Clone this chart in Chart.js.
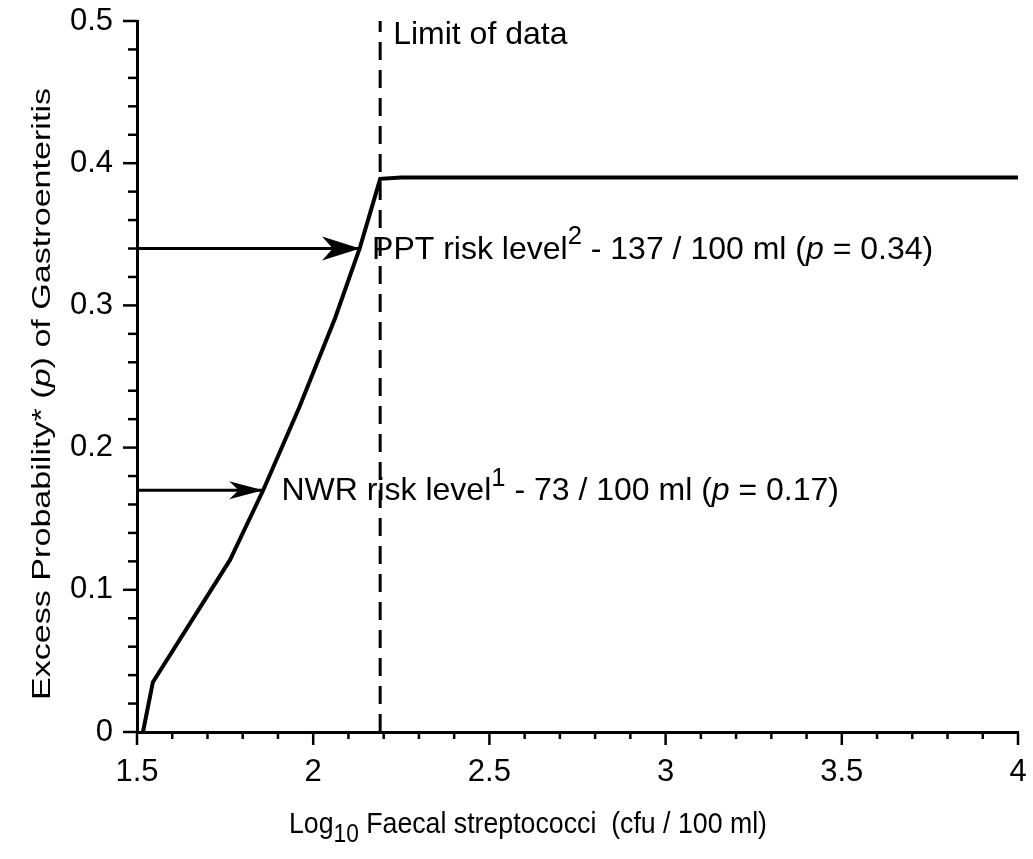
<!DOCTYPE html>
<html>
<head>
<meta charset="utf-8">
<script src="https://cdn.jsdelivr.net/npm/chart.js@4"></script>
<style>
  html, body { margin: 0; padding: 0; background: #fff; }
  #wrap { width: 1033px; height: 859px; }
</style>
</head>
<body>
<div id="wrap"><canvas id="chart"></canvas></div>
<script>
// curve (log10 FS, excess probability)
const curveX = [1.517, 1.545, 1.764, 1.858, 1.96, 2.062, 2.133, 2.19, 2.25, 4.0];
const curveY = [0, 0.035, 0.121, 0.17, 0.228, 0.291, 0.341, 0.389, 0.39, 0.39];

const limitOfData = 2.19;

// risk level arrows: value of p and where the arrow meets the curve
const riskLevels = ["NWR", "PPT"];
const riskP = [0.17, 0.34];
const riskX = [1.858, 2.133];
const riskLabelX = [1.91, 2.167];
const riskSup = ["1", "2"];
const riskCount = ["73", "137"];

const xTickLabels = ["1.5", "2", "2.5", "3", "3.5", "4"];
const yTickLabels = ["0", "0.1", "0.2", "0.3", "0.4", "0.5"];

const FONT = '"Liberation Sans", Arial, Helvetica, sans-serif';
const FS = 31;
const NOTE_FS = 32;

const curveData = curveX.map((x, i) => ({ x: x, y: curveY[i] }));

const arrowSets = riskLevels.map((name, i) => ({
  label: name + " arrow",
  data: [{ x: 1.5, y: riskP[i] }, { x: riskX[i], y: riskP[i] }],
  borderColor: "#000",
  borderWidth: 3,
  pointRadius: 0,
  showLine: true,
  clip: false,
}));

function drawRich(ctx, x, y, parts, fs) {
  let cx = x;
  parts.forEach((p) => {
    let size = fs, dy = 0, style = "";
    if (p.s === "sup") { size = fs * 0.8; dy = -fs * 0.45; }
    if (p.s === "sub") { size = fs * 0.85; dy = fs * 0.3; }
    if (p.s === "i") { style = "italic "; }
    ctx.font = style + size + "px " + FONT;
    ctx.fillText(p.t, cx, y + dy);
    cx += ctx.measureText(p.t).width;
  });
  return cx - x;
}

function richWidth(ctx, parts, fs) {
  let w = 0;
  parts.forEach((p) => {
    const size = p.s === "sup" ? fs * 0.8 : p.s === "sub" ? fs * 0.85 : fs;
    ctx.font = (p.s === "i" ? "italic " : "") + size + "px " + FONT;
    w += ctx.measureText(p.t).width;
  });
  return w;
}

const decorPlugin = {
  id: "decor",
  afterDraw(chart) {
    const ctx = chart.ctx;
    const xs = chart.scales.x, ys = chart.scales.y;
    const area = chart.chartArea;
    ctx.save();
    ctx.fillStyle = "#000";
    ctx.strokeStyle = "#000";

    // tick marks, long for labelled values and short otherwise
    ctx.lineWidth = 2.5;
    xs.ticks.forEach((t) => {
      const px = xs.getPixelForValue(t.value);
      const len = t.label ? 13 : 7;
      ctx.beginPath();
      ctx.moveTo(px, area.bottom);
      ctx.lineTo(px, area.bottom + len);
      ctx.stroke();
    });
    ys.ticks.forEach((t) => {
      const py = ys.getPixelForValue(t.value);
      const len = t.label ? 14 : 9;
      ctx.beginPath();
      ctx.moveTo(area.left, py);
      ctx.lineTo(area.left - len, py);
      ctx.stroke();
    });

    // arrow heads
    riskLevels.forEach((name, i) => {
      const tx = xs.getPixelForValue(riskX[i]);
      const ty = ys.getPixelForValue(riskP[i]);
      const L = i === 1 ? 38 : 34, W = i === 1 ? 12 : 9;
      ctx.beginPath();
      ctx.moveTo(tx, ty);
      ctx.lineTo(tx - L, ty - W);
      ctx.lineTo(tx - L * 0.72, ty);
      ctx.lineTo(tx - L, ty + W);
      ctx.closePath();
      ctx.fill();
    });

    // annotations
    ctx.textBaseline = "alphabetic";
    ctx.textAlign = "left";
    ctx.font = NOTE_FS + "px " + FONT;
    ctx.fillText("Limit of data", xs.getPixelForValue(limitOfData) + 13, area.top + 23);

    riskLevels.forEach((name, i) => {
      const lx = xs.getPixelForValue(riskLabelX[i]);
      const ly = ys.getPixelForValue(riskP[i]) + 10;
      drawRich(ctx, lx, ly, [
        { t: name + " risk level" },
        { t: riskSup[i], s: "sup" },
        { t: " - " + riskCount[i] + " / 100 ml (" },
        { t: "p", s: "i" },
        { t: " = " + riskP[i].toFixed(2) + ")" },
      ], NOTE_FS);
    });

    // x axis title (a little narrow in the original)
    const xParts = [
      { t: "Log" },
      { t: "10", s: "sub" },
      { t: " Faecal streptococci  (cfu / 100 ml)" },
    ];
    const xw = richWidth(ctx, xParts, 30);
    ctx.save();
    ctx.translate(528, 833);
    ctx.scale(478 / xw, 1);
    drawRich(ctx, -xw / 2, 0, xParts, 30);
    ctx.restore();

    // y axis title (long and narrow in the original)
    const yParts = [
      { t: "Excess Probability* (" },
      { t: "p", s: "i" },
      { t: ") of Gastroenteritis" },
    ];
    const yw = richWidth(ctx, yParts, 26);
    ctx.translate(41, 394);
    ctx.rotate(-Math.PI / 2);
    ctx.scale(612 / yw, 1);
    drawRich(ctx, -yw / 2, 9, yParts, 26);
    ctx.restore();
  },
};

new Chart(document.getElementById("chart"), {
  type: "scatter",
  data: {
    datasets: [
      {
        label: "Excess probability",
        data: curveData,
        borderColor: "#000",
        borderWidth: 4,
        pointRadius: 0,
        showLine: true,
        clip: false,
      },
      {
        label: "Limit of data",
        data: [{ x: limitOfData, y: 0 }, { x: limitOfData, y: 0.5 }],
        borderColor: "#000",
        borderWidth: 3,
        borderDash: [18, 10],
        pointRadius: 0,
        showLine: true,
        clip: false,
      },
      ...arrowSets,
    ],
  },
  options: {
    responsive: true,
    maintainAspectRatio: false,
    animation: false,
    layout: { padding: { top: 21, right: 15, left: 0, bottom: 0 } },
    plugins: { legend: { display: false }, tooltip: { enabled: false } },
    scales: {
      x: {
        type: "linear",
        min: 1.5,
        max: 4,
        afterFit: (s) => {
          s.height = 127;
          s.paddingLeft = 0;
          s.paddingRight = 0;
        },
        border: { display: true, color: "#000", width: 3 },
        grid: { display: false, drawTicks: false },
        ticks: {
          stepSize: 0.1,
          autoSkip: false,
          maxRotation: 0,
          padding: 22,
          color: "#000",
          font: { family: FONT, size: FS },
          callback: (v) => {
            const k = Math.round(v * 10);
            return k % 5 === 0 ? xTickLabels[(k - 15) / 5] : "";
          },
        },
      },
      y: {
        type: "linear",
        min: 0,
        max: 0.5,
        afterFit: (s) => {
          s.width = 137;
          s.paddingTop = 0;
          s.paddingBottom = 0;
        },
        border: { display: true, color: "#000", width: 3 },
        grid: { display: false, drawTicks: false },
        ticks: {
          stepSize: 0.02,
          autoSkip: false,
          padding: 24,
          color: "#000",
          font: { family: FONT, size: FS },
          callback: (v) => {
            const k = Math.round(v * 50);
            return k % 5 === 0 ? yTickLabels[k / 5] : "";
          },
        },
      },
    },
  },
  plugins: [decorPlugin],
});
</script>
</body>
</html>
